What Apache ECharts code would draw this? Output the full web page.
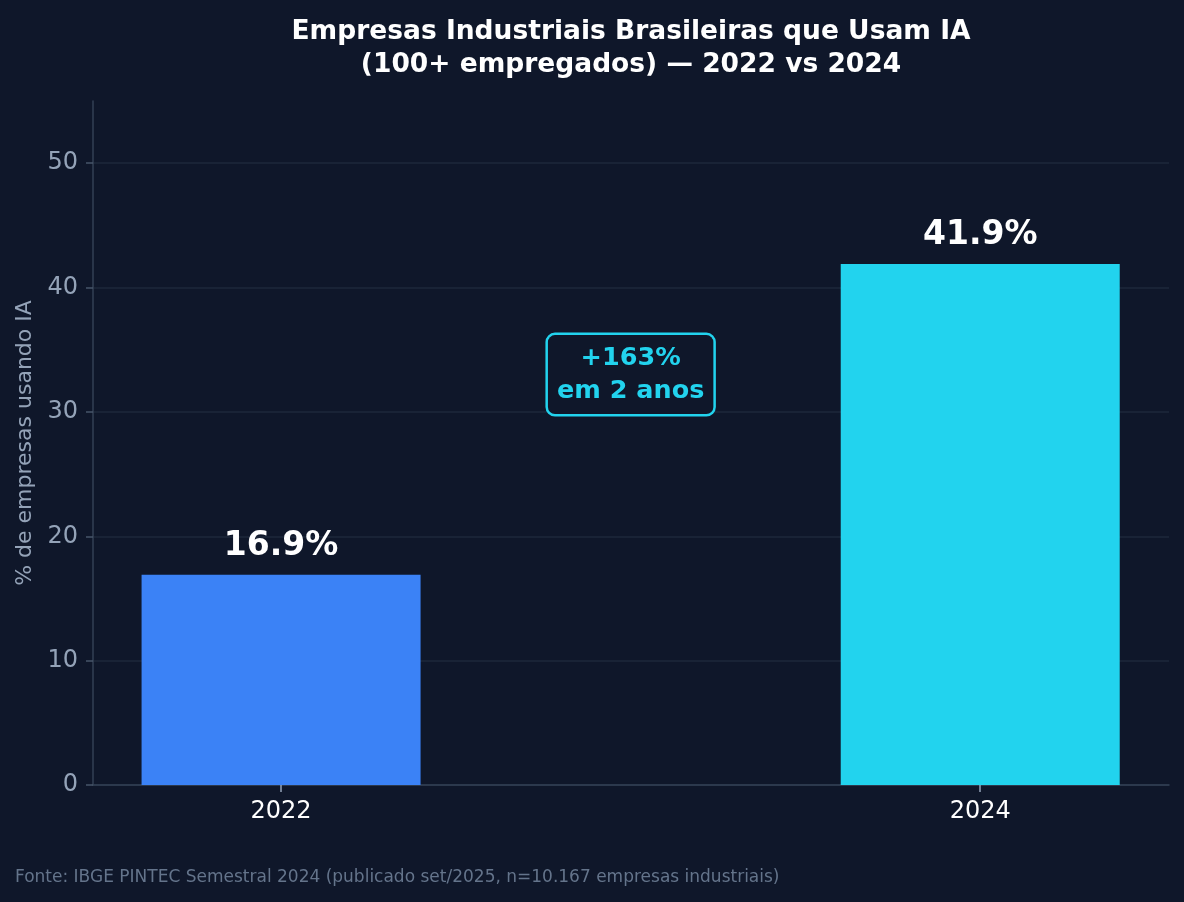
<!DOCTYPE html>
<html>
<head>
<meta charset="utf-8">
<script src="https://cdn.jsdelivr.net/npm/echarts@6/dist/echarts.min.js"></script>
<style>
  html, body { margin: 0; padding: 0; background: #0f172a; }
  #chart { width: 1184px; height: 902px; }
</style>
</head>
<body>
<div id="chart"></div>
<script>
// dados
const years = ["2022", "2024"];
const shares = [16.9, 41.9];
const barColors = ["#3b82f6", "#22d3ee"];
const yTicks = [0, 10, 20, 30, 40, 50];
const growthNote = { x: 0.5, y: 33, text: "+163%\nem 2 anos" };

const chart = echarts.init(document.getElementById("chart"));
const font = "DejaVu Sans";

chart.setOption({
  backgroundColor: "#0f172a",
  textStyle: { fontFamily: font },
  title: {
    text: "Empresas Industriais Brasileiras que Usam IA\n(100+ empregados) — 2022 vs 2024",
    left: 626,
    textAlign: "center",
    top: 11,
    textStyle: {
      color: "#ffffff",
      fontSize: 26.5,
      fontWeight: "bold",
      fontFamily: font,
      lineHeight: 33,
    },
  },
  graphic: [
    {
      type: "text",
      left: 15,
      top: 869,
      style: {
        text: "Fonte: IBGE PINTEC Semestral 2024 (publicado set/2025, n=10.167 empresas industriais)",
        fill: "#64748b",
        font: "17px DejaVu Sans",
      },
    },
  ],
  grid: { left: 93, right: 15, top: 101, bottom: 117 },
  xAxis: {
    type: "value",
    min: -0.269,
    max: 1.27,
    splitLine: { show: false },
    axisLine: { show: true, onZero: false, lineStyle: { color: "#334155", width: 1.5 } },
    axisTick: {
      show: true,
      customValues: [0, 1],
      length: 7,
      lineStyle: { color: "#94a3b8", width: 1.5 },
    },
    axisLabel: {
      customValues: [0, 1],
      formatter: (v) => years[Math.round(v)],
      color: "#ffffff",
      fontSize: 24,
      margin: 15,
      fontFamily: font,
    },
  },
  yAxis: {
    type: "value",
    min: 0,
    max: 55,
    interval: 10,
    name: "% de empresas usando IA",
    nameLocation: "middle",
    nameGap: 56,
    nameTextStyle: { color: "#94a3b8", fontSize: 22, fontFamily: font },
    axisLine: { show: true, onZero: false, lineStyle: { color: "#334155", width: 1.5 } },
    axisTick: {
      show: true,
      customValues: yTicks,
      length: 7,
      lineStyle: { color: "#475569", width: 1.5 },
    },
    axisLabel: {
      customValues: yTicks,
      color: "#94a3b8",
      fontSize: 24,
      margin: 15,
      fontFamily: font,
    },
    splitLine: { show: true, lineStyle: { color: "#1e293b", width: 1.5 } },
  },
  series: [
    {
      type: "bar",
      barWidth: 279,
      data: shares.map((v, i) => ({
        value: [i, v],
        itemStyle: { color: barColors[i] },
      })),
      label: {
        show: true,
        position: "top",
        distance: 12,
        formatter: (p) => p.value[1].toFixed(1) + "%",
        color: "#ffffff",
        fontSize: 33,
        fontWeight: "bold",
        fontFamily: font,
      },
      z: 3,
    },
    {
      type: "scatter",
      data: [[growthNote.x, growthNote.y]],
      symbolSize: 1,
      itemStyle: { color: "rgba(0,0,0,0)", opacity: 1 },
      silent: true,
      z: 5,
      label: {
        show: true,
        position: "inside",
        formatter: growthNote.text,
        color: "#22d3ee",
        opacity: 1,
        fontSize: 25.5,
        fontWeight: "bold",
        fontFamily: font,
        lineHeight: 33,
        align: "center",
        backgroundColor: "#0f172a",
        borderColor: "#22d3ee",
        borderWidth: 2.5,
        borderRadius: 7,
        padding: [7, 9, 6, 9],
      },
    },
  ],
});
</script>
</body>
</html>
